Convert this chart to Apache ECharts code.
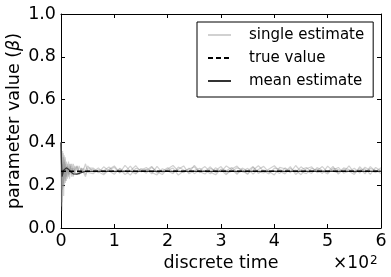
<!DOCTYPE html>
<html>
<head>
<meta charset="utf-8">
<script src="https://cdn.jsdelivr.net/npm/echarts@6/dist/echarts.min.js"></script>
<style>
html,body{margin:0;padding:0;background:#fff;}
#chart{width:391px;height:277px;}
</style>
</head>
<body>
<div id="chart"></div>
<script>
// time steps (discrete time) for single estimates
var timeSteps = [0,1,2,3,4,5,6,7,8,10,12,14,16,18,20,23,26,30,34,38,42,46,50,
  60,70,80,90,100,110,120,130,140,150,160,170,180,190,200,210,220,230,240,250,
  260,270,280,290,300,310,320,330,340,350,360,370,380,390,400,410,420,430,440,450,
  460,470,480,490,500,510,520,530,540,550,560,570,580,590,600];

var single1 = [0.40,0.22,0.12,0.30,0.21,0.33,0.25,0.29,0.22,0.31,0.27,0.24,0.30,0.26,0.28,0.24,0.29,0.27,0.25,0.28,0.26,0.27,0.29,
  0.262,0.281,0.255,0.274,0.290,0.259,0.268,0.247,0.279,0.271,
  0.256,0.284,0.263,0.250,0.276,0.292,0.266,0.258,0.280,0.254,
  0.270,0.287,0.261,0.249,0.275,0.268,0.283,0.257,0.265,0.279,
  0.252,0.273,0.288,0.260,0.269,0.255,0.281,0.264,0.271,0.249,
  0.277,0.286,0.259,0.266,0.253,0.280,0.272,0.262,0.290,0.258,
  0.268,0.276,0.251,0.283,0.265];
var single2 = [0.40,0.10,0.33,0.18,0.28,0.20,0.31,0.23,0.30,0.24,0.29,0.25,0.27,0.30,0.25,0.28,0.26,0.29,0.26,0.27,0.28,0.25,0.27,
  0.275,0.258,0.286,0.266,0.251,0.279,0.262,0.289,0.256,0.270,
  0.283,0.260,0.248,0.277,0.266,0.254,0.285,0.271,0.259,0.293,
  0.263,0.252,0.278,0.269,0.287,0.256,0.264,0.281,0.273,0.250,
  0.284,0.262,0.257,0.276,0.291,0.265,0.253,0.279,0.260,0.286,
  0.267,0.255,0.282,0.270,0.261,0.288,0.252,0.275,0.264,0.279,
  0.257,0.284,0.269,0.259,0.272];
var single3 = [0.40,0.30,0.08,0.24,0.35,0.19,0.27,0.32,0.21,0.28,0.23,0.31,0.25,0.29,0.24,0.30,0.26,0.25,0.29,0.26,0.27,0.30,0.26,
  0.254,0.272,0.268,0.285,0.261,0.276,0.250,0.267,0.291,0.262,
  0.274,0.253,0.288,0.259,0.271,0.280,0.247,0.266,0.276,0.286,
  0.258,0.270,0.253,0.282,0.262,0.290,0.273,0.251,0.280,0.266,
  0.287,0.255,0.271,0.264,0.248,0.283,0.277,0.258,0.292,0.263,
  0.254,0.279,0.268,0.287,0.260,0.271,0.283,0.256,0.265,0.250,
  0.286,0.261,0.278,0.270,0.255];
var single4 = [0.40,0.25,0.18,0.36,0.26,0.15,0.34,0.24,0.33,0.22,0.30,0.27,0.23,0.28,0.30,0.25,0.27,0.29,0.25,0.28,0.26,0.24,0.28,
  0.280,0.263,0.249,0.271,0.284,0.257,0.293,0.266,0.252,0.278,
  0.269,0.288,0.257,0.265,0.282,0.261,0.274,0.290,0.253,0.268,
  0.279,0.263,0.286,0.258,0.271,0.249,0.276,0.289,0.262,0.256,
  0.270,0.291,0.266,0.253,0.280,0.274,0.261,0.287,0.250,0.272,
  0.283,0.263,0.276,0.255,0.289,0.266,0.259,0.281,0.273,0.260,
  0.277,0.253,0.287,0.264,0.282];

var meanTimes = [0,1,2,3,4,5,6,7,8,10,12,14,16,18,20,23,26,30,34,38,42,46,50,600];
var meanValues = [0.40,0.30,0.24,0.245,0.26,0.27,0.275,0.278,0.28,0.281,0.279,0.275,0.27,0.263,0.258,0.253,0.251,0.252,0.255,0.259,0.262,0.264,0.265,0.265];

var trueTimes = [0,600];
var trueValues = [0.265,0.265];

var xTicks = [0,1,2,3,4,5,6];      // in units of 10^2
var yTicks = [0.0,0.2,0.4,0.6,0.8,1.0];
var legendNames = ['single estimate','true value','mean estimate'];

function pairs(xs, ys){ return xs.map(function(x,i){ return [x, ys[i]]; }); }

var grayC = 'rgba(140,140,140,0.4)';
var singles = [single1, single2, single3, single4].map(function(arr, i){
  return {
    name:legendNames[0], type:'line', data:pairs(timeSteps, arr),
    showSymbol:false, symbol:'none', silent:true, animation:false,
    lineStyle:{color:grayC, width:1.2}, itemStyle:{color:grayC}, z:1
  };
});

var font = 'DejaVu Sans';
var legendText = {fontFamily:font, fontSize:15, color:'#000', lineHeight:16, padding:[0,0,0,13]};
var chart = echarts.init(document.getElementById('chart'), null, {renderer:'canvas'});
var option = {
  animation:false,
  backgroundColor:'#fff',
  grid:{left:61, right:10, top:14, bottom:49, outerBoundsMode:'none', containLabel:false},
  legend:{
    left:197, top:22, orient:'vertical',
    data:legendNames.map(function(n){ return {name:n, textStyle:legendText}; }),
    itemWidth:23, itemHeight:14, itemGap:7,
    padding:[5,9,8,10],
    borderColor:'#000', borderWidth:1, borderRadius:0,
    backgroundColor:'#fff',
    itemStyle:{opacity:0},
    textStyle:legendText,
    selectedMode:false
  },
  xAxis:[{
    type:'value', min:0, max:600, interval:100, position:'bottom',
    axisLine:{show:true, onZero:false, lineStyle:{color:'#000', width:1}},
    axisTick:{show:true, inside:true, length:4, lineStyle:{color:'#000'}},
    axisLabel:{fontFamily:font, fontSize:17.5, color:'#000', margin:4,
      formatter:function(v){ return String(xTicks[Math.round(v/100)]); }},
    splitLine:{show:false},
    name:'discrete time', nameLocation:'middle', nameGap:26, nameMoveOverlap:false,
    nameTextStyle:{fontFamily:font, fontSize:17.5, color:'#000'}
  },{
    type:'value', min:0, max:600, interval:100, position:'top',
    axisLine:{show:true, onZero:false, lineStyle:{color:'#000', width:1}},
    axisTick:{show:true, inside:true, length:4, lineStyle:{color:'#000'}},
    axisLabel:{show:false}, splitLine:{show:false}
  }],
  yAxis:[{
    type:'value', min:0, max:1, interval:0.2, position:'left',
    axisLine:{show:true, onZero:false, lineStyle:{color:'#000', width:1}},
    axisTick:{show:true, inside:true, length:4, lineStyle:{color:'#000'}},
    axisLabel:{fontFamily:font, fontSize:17.5, color:'#000', margin:5,
      formatter:function(v){ return v.toFixed(1); }},
    splitLine:{show:false},
    name:'{a|parameter value (}{b|β}{a|)}', nameLocation:'middle', nameGap:38, nameRotate:90, nameMoveOverlap:false,
    nameTextStyle:{fontFamily:font, fontSize:17.5, color:'#000',
      rich:{a:{fontFamily:font, fontSize:17.5, color:'#000'}, b:{fontFamily:font, fontSize:17.5, fontStyle:'italic', color:'#000'}}}
  },{
    type:'value', min:0, max:1, interval:0.2, position:'right',
    axisLine:{show:true, onZero:false, lineStyle:{color:'#000', width:1}},
    axisTick:{show:true, inside:true, length:4, lineStyle:{color:'#000'}},
    axisLabel:{show:false}, splitLine:{show:false}
  }],
  graphic:[{
    type:'text', x:369, y:272,
    style:{text:'×10', font:'17px "DejaVu Sans"', fill:'#000', textAlign:'right', textVerticalAlign:'bottom'}
  },{
    type:'text', x:370, y:255,
    style:{text:'2', font:'12px "DejaVu Sans"', fill:'#000', textAlign:'left', textVerticalAlign:'top'}
  }],
  series: singles.concat([
    {name:legendNames[2], type:'line', data:pairs(meanTimes, meanValues),
     showSymbol:false, symbol:'none', lineStyle:{color:'#333', width:1.2}, itemStyle:{color:'#333'}, z:3},
    {name:legendNames[1], type:'line', data:pairs(trueTimes, trueValues),
     showSymbol:false, symbol:'none', lineStyle:{color:'#000', width:1.6, type:[5,3]}, itemStyle:{color:'#000'}, z:4}
  ])
};
chart.setOption(option);
</script>
</body>
</html>
